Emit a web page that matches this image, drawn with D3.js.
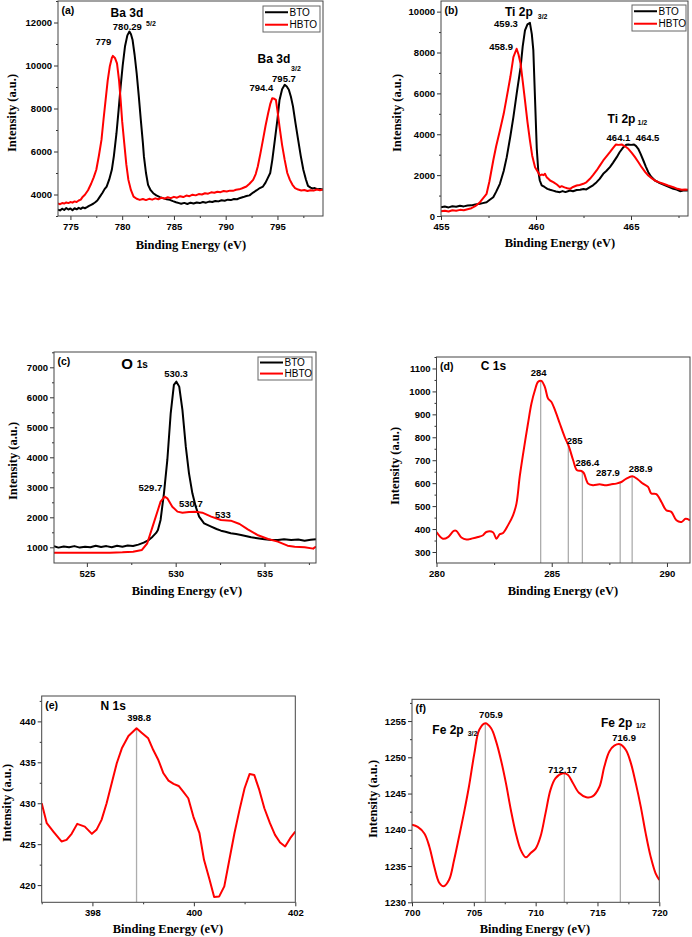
<!DOCTYPE html>
<html>
<head>
<meta charset="utf-8">
<script src="https://cdn.jsdelivr.net/npm/d3@7"></script>
<style>
  body { margin: 0; background: #fff; }
  svg { display: block; background: #fff; }
</style>
</head>
<body>
<svg id="chart" width="692" height="937"></svg>
<script>
// ---- data: [binding energy (eV), intensity (a.u.)] ----
const baBTO = [[773.8,3300],[774.0,3260],[774.2,3340],[774.4,3280],[774.6,3370],[774.8,3300],[775.0,3350],[775.2,3270],[775.4,3360],[775.6,3310],[775.8,3380],[776.0,3330],[776.2,3400],[776.4,3360],[776.6,3410],[776.8,3470],[777.0,3520],[777.2,3570],[777.4,3640],[777.6,3720],[777.85,3900],[778.1,4080],[778.3,4250],[778.5,4370],[778.75,4700],[779.0,5150],[779.2,5800],[779.45,6850],[779.65,7900],[779.85,9020],[780.05,10000],[780.27,10880],[780.5,11400],[780.7,11580],[780.85,11450],[781.0,11200],[781.2,10500],[781.4,9640],[781.6,8600],[781.8,7470],[782.0,6400],[782.1,5770],[782.3,5000],[782.5,4450],[782.75,4200],[783.0,4060],[783.3,3960],[783.65,3880],[784.0,3820],[784.3,3780],[784.6,3750],[784.9,3690],[785.2,3640],[785.5,3600],[785.7,3570],[786.0,3610],[786.3,3560],[786.6,3620],[786.9,3580],[787.2,3630],[787.5,3600],[787.8,3650],[788.1,3620],[788.4,3670],[788.7,3650],[789.0,3700],[789.3,3680],[789.6,3730],[789.9,3710],[790.2,3760],[790.5,3740],[790.8,3790],[791.1,3780],[791.4,3840],[791.7,3880],[792.0,3930],[792.3,3960],[792.65,4090],[793.0,4200],[793.3,4300],[793.6,4370],[793.85,4550],[794.05,4750],[794.3,5000],[794.5,5600],[794.75,6540],[795.0,7500],[795.2,8400],[795.45,8900],[795.7,9100],[795.9,9020],[796.1,8870],[796.3,8550],[796.5,8100],[796.75,7300],[797.0,6540],[797.25,5800],[797.5,5150],[797.75,4700],[797.95,4400],[798.2,4320],[798.4,4280],[798.6,4300],[798.85,4250],[799.1,4260],[799.4,4230]];
const baHBTO = [[773.8,3580],[774.0,3550],[774.2,3600],[774.4,3580],[774.6,3630],[774.8,3600],[775.0,3650],[775.2,3620],[775.4,3680],[775.6,3650],[775.8,3720],[776.0,3760],[776.2,3900],[776.4,3990],[776.7,4200],[777.0,4500],[777.25,4800],[777.5,5150],[777.75,5800],[778.0,6540],[778.2,7500],[778.4,8400],[778.6,9300],[778.8,9950],[779.0,10350],[779.1,10450],[779.3,10350],[779.5,10100],[779.7,9300],[779.85,8400],[780.0,7400],[780.2,6390],[780.4,5400],[780.6,4680],[780.85,4200],[781.1,3900],[781.4,3800],[781.7,3750],[782.0,3790],[782.3,3740],[782.6,3800],[782.9,3760],[783.2,3820],[783.5,3780],[783.8,3850],[784.1,3810],[784.4,3870],[784.7,3830],[785.0,3890],[785.3,3850],[785.6,3920],[785.9,3880],[786.2,3950],[786.5,3920],[786.8,3990],[787.1,3960],[787.4,4020],[787.7,4000],[788.0,4060],[788.3,4040],[788.6,4100],[788.9,4080],[789.2,4130],[789.5,4110],[789.8,4160],[790.1,4140],[790.4,4180],[790.7,4170],[791.0,4220],[791.3,4240],[791.6,4290],[792.0,4370],[792.3,4500],[792.65,4680],[792.9,4950],[793.1,5300],[793.35,5900],[793.6,6540],[793.85,7200],[794.1,7780],[794.3,8200],[794.5,8480],[794.7,8450],[794.85,8400],[795.0,7900],[795.2,7160],[795.45,6300],[795.7,5610],[795.95,5000],[796.2,4680],[796.45,4450],[796.7,4300],[797.0,4230],[797.3,4190],[797.6,4210],[797.9,4160],[798.2,4200],[798.5,4180],[798.8,4230],[799.1,4200],[799.4,4230]];

const tiBTO = [[455.0,430],[455.2,460],[455.4,420],[455.6,480],[455.8,450],[456.0,500],[456.2,470],[456.4,510],[456.6,520],[456.8,560],[457.05,597],[457.2,630],[457.4,675],[457.55,780],[457.75,920],[457.9,1180],[458.1,1575],[458.3,2200],[458.46,2880],[458.65,3900],[458.81,4837],[459.0,6100],[459.19,7283],[459.3,8300],[459.42,9080],[459.55,9380],[459.68,9450],[459.78,8900],[459.86,8100],[459.95,5700],[460.04,3300],[460.12,2200],[460.2,1737],[460.3,1500],[460.45,1420],[460.6,1330],[460.74,1282],[460.9,1240],[461.05,1200],[461.26,1166],[461.4,1220],[461.55,1170],[461.79,1248],[461.95,1210],[462.14,1270],[462.32,1282],[462.5,1320],[462.65,1300],[462.84,1410],[463.0,1500],[463.19,1656],[463.35,1820],[463.54,2065],[463.7,2200],[463.89,2389],[464.05,2600],[464.25,2880],[464.4,3120],[464.6,3368],[464.75,3490],[464.86,3500],[465.0,3480],[465.16,3500],[465.27,3420],[465.38,3289],[465.5,3050],[465.65,2716],[465.78,2420],[465.91,2145],[466.05,1930],[466.26,1737],[466.45,1640],[466.7,1542],[466.95,1440],[467.23,1330],[467.4,1290],[467.58,1215],[467.8,1260],[468.0,1248]];
const tiHBTO = [[455.0,235],[455.2,260],[455.4,220],[455.6,280],[455.8,260],[456.0,300],[456.2,280],[456.4,330],[456.6,380],[456.8,480],[457.05,675],[457.2,850],[457.4,1085],[457.55,1700],[457.75,2716],[457.9,3400],[458.1,4185],[458.3,5000],[458.46,5815],[458.65,6800],[458.81,7773],[458.98,8184],[459.08,7900],[459.19,7450],[459.3,6600],[459.42,5653],[459.55,4600],[459.68,3695],[459.8,2950],[459.95,2389],[460.1,2150],[460.21,1982],[460.3,2031],[460.4,2000],[460.47,2065],[460.56,1900],[460.65,1820],[460.74,1737],[460.91,1656],[461.1,1540],[461.26,1410],[461.35,1460],[461.5,1400],[461.65,1360],[461.79,1330],[461.95,1420],[462.14,1493],[462.3,1520],[462.49,1575],[462.65,1650],[462.84,1820],[463.0,2000],[463.19,2227],[463.35,2450],[463.54,2716],[463.7,2900],[463.89,3123],[464.05,3320],[464.21,3500],[464.35,3480],[464.51,3500],[464.7,3400],[464.86,3289],[465.05,3080],[465.21,2880],[465.4,2620],[465.56,2389],[465.75,2150],[465.91,1982],[466.1,1840],[466.26,1737],[466.45,1660],[466.7,1575],[466.95,1490],[467.23,1410],[467.45,1330],[467.67,1282],[467.85,1300],[468.0,1282]];

const oBTO = [[523.15,1040],[523.4,990],[523.7,1030],[524.0,1000],[524.3,1040],[524.6,990],[524.9,1020],[525.2,1000],[525.5,1050],[525.8,1010],[526.1,1040],[526.4,1000],[526.7,1050],[527.0,1020],[527.3,1060],[527.6,1044],[527.9,1090],[528.2,1155],[528.45,1230],[528.7,1355],[528.9,1480],[529.0,1578],[529.15,1911],[529.34,2800],[529.53,3911],[529.72,5467],[529.9,6411],[530.04,6522],[530.2,6356],[530.38,5578],[530.57,4355],[530.75,3467],[530.94,2800],[531.13,2355],[531.32,2022],[531.6,1800],[532.0,1689],[532.3,1610],[532.55,1555],[532.8,1520],[533.1,1466],[533.4,1440],[533.68,1411],[534.0,1370],[534.25,1333],[534.6,1300],[535.0,1267],[535.4,1240],[535.75,1244],[536.1,1270],[536.5,1244],[536.9,1260],[537.26,1222],[537.6,1250],[537.9,1267]];
const oHBTO = [[523.15,822],[524.0,820],[525.0,818],[526.0,822],[526.3,822],[527.0,835],[527.6,855],[528.1,911],[528.4,1133],[528.7,1689],[529.0,2244],[529.15,2522],[529.38,2689],[529.53,2633],[529.81,2355],[530.1,2189],[530.38,2155],[530.75,2178],[531.13,2189],[531.5,2155],[532.0,2022],[532.55,1911],[533.1,1889],[533.6,1778],[534.06,1600],[534.6,1411],[535.2,1278],[535.75,1189],[536.3,1055],[536.7,1022],[537.26,1000],[537.74,956],[537.9,1022]];

const c1s = [[280.0,387],[280.28,358],[280.5,365],[280.75,392],[280.86,392],[281.08,363],[281.3,354],[281.51,358],[281.8,365],[282.02,373],[282.16,387],[282.45,386],[282.6,358],[282.74,377],[282.89,383],[283.1,416],[283.32,460],[283.47,511],[283.61,627],[283.76,729],[283.97,860],[284.12,947],[284.27,1005],[284.41,1042],[284.55,1046],[284.7,1020],[284.84,969],[284.98,955],[285.17,911],[285.35,860],[285.56,802],[285.75,758],[285.93,700],[286.1,656],[286.29,653],[286.39,645],[286.58,598],[286.79,591],[287.08,595],[287.3,591],[287.59,595],[287.8,598],[288.02,605],[288.24,620],[288.5,630],[288.74,616],[288.96,598],[289.18,584],[289.32,555],[289.54,552],[289.76,518],[289.97,482],[290.19,475],[290.41,438],[290.63,431],[290.81,445],[291.0,438]];
const n1s = [[397.0,430.0],[397.1,427.56],[397.23,426.54],[397.39,425.33],[397.49,425.53],[397.59,426.26],[397.7,427.48],[397.85,427.15],[397.99,426.26],[398.08,426.75],[398.18,427.97],[398.28,430.0],[398.38,432.44],[398.48,434.88],[398.58,436.71],[398.71,438.21],[398.87,439.15],[398.97,438.62],[399.1,437.93],[399.2,436.5],[399.3,435.28],[399.4,433.66],[399.5,432.76],[399.6,432.36],[399.7,432.11],[399.79,431.42],[399.89,430.61],[399.99,428.37],[400.11,426.34],[400.2,423.09],[400.31,420.65],[400.4,418.54],[400.5,418.62],[400.6,419.84],[400.7,423.09],[400.8,426.34],[400.9,429.19],[401.0,431.83],[401.1,433.58],[401.19,433.46],[401.29,431.63],[401.39,429.39],[401.5,427.56],[401.6,426.14],[401.7,425.2],[401.8,424.72],[401.9,425.73],[402.0,426.54]];
const fe2p = [[700,1240.7],[700.46,1240.4],[701.0,1239.5],[701.4,1237.7],[701.8,1234.9],[702.2,1232.7],[702.56,1232.2],[703.0,1233.1],[703.4,1235.8],[703.8,1239.0],[704.2,1242.3],[704.6,1245.9],[705.04,1250.5],[705.44,1253.8],[705.93,1254.7],[706.4,1254.0],[706.8,1252.2],[707.2,1249.6],[707.6,1246.4],[708.0,1242.7],[708.4,1239.5],[708.8,1237.2],[709.2,1236.2],[709.6,1236.8],[710.0,1237.4],[710.4,1239.1],[710.8,1242.3],[711.2,1245.5],[711.6,1247.1],[712.2,1247.8],[712.6,1247.6],[713.0,1246.5],[713.5,1245.1],[714.1,1244.5],[714.6,1244.6],[715.15,1245.9],[715.55,1248.7],[715.96,1250.8],[716.36,1251.6],[716.82,1251.8],[717.3,1251.0],[717.7,1249.2],[718.1,1246.4],[718.5,1243.2],[718.9,1239.5],[719.3,1236.3],[719.7,1234.0],[720.0,1233.1]];

// drop lines under the marked peaks (eV)
const c1sDrops = [284.52, 285.72, 286.33, 287.97, 288.49];
const n1sDrops = [398.87];
const fe2pDrops = [705.93, 712.32, 716.85];

// annotations: [text, eV, intensity, kind]
const baNotes = [['Ba 3d',780.46,12242,'title'],['5/2',782.78,11837,'sub'],['780.29',780.5,11628,'peak'],['779',778.19,10953,'peak'],
  ['Ba 3d',794.66,10116,'title'],['3/2',796.79,9767,'sub'],['795.7',795.63,9233,'peak'],['794.4',793.45,8814,'peak']];
const tiNotes = [['Ti 2p',459.1,9790,'title'],['3/2',460.35,9640,'sub'],['459.3',458.42,9248,'peak'],['458.9',458.16,8122,'peak'],
  ['Ti 2p',464.5,4551,'title'],['1/2',465.6,4453,'sub'],['464.1',464.34,3670,'peak'],['464.5',465.87,3670,'peak']];
const oNotes = [['O',527.26,6960,'big'],['1s',528.12,6977,'mid'],['530.3',530.02,6677,'peak'],['529.7',528.58,2877,'peak'],['530.7',530.86,2327,'peak'],['533',532.66,1977,'peak']];
const cNotes = [['C 1s',282.47,1093,'title'],['284',284.43,1067,'peak'],['285',285.996,771,'peak'],['286.4',286.55,676,'peak'],['287.9',287.44,631,'peak'],['288.9',288.86,649,'peak']];
const nNotes = [['N 1s',398.41,441.33,'title'],['398.8',398.92,440.05,'peak']];
const feNotes = [['705.9',706.39,1255.4,'peak'],['Fe 2p',702.91,1253.2,'title'],['3/2',704.9,1252.9,'sub'],['Fe 2p',716.55,1254.2,'title'],['1/2',718.5,1254.1,'sub'],['716.9',717.15,1252.2,'peak'],['712.17',712.17,1247.9,'peak']];

const SANS = '"Liberation Sans", Arial, sans-serif';
const SERIF = '"Liberation Serif", "Times New Roman", serif';
const noteSize = { peak: 9.5, title: 12, sub: 7, big: 15, mid: 10 };

class XpsPanel {

    constructor(_config, _series, _notes) {
        this.config = {
            parentElement: _config.parentElement,
            id: _config.id,
            frame: _config.frame,
            xDomain: _config.xDomain,
            yDomain: _config.yDomain,
            xTicks: _config.xTicks,
            xMinor: _config.xMinor,
            yTicks: _config.yTicks,
            yMinor: _config.yMinor,
            legend: _config.legend || null,
            drops: _config.drops || [],
            curve: _config.curve || d3.curveLinear,
            yTitle: _config.yTitle,
            xTitle: _config.xTitle
        }
        this.series = _series;
        this.notes = _notes || [];
        this.initVis();
    }

    initVis() {
        let vis = this;
        let f = vis.config.frame;
        vis.x = d3.scaleLinear().domain(vis.config.xDomain).range([f.l, f.r]);
        vis.y = d3.scaleLinear().domain(vis.config.yDomain).range([f.b, f.t]);
        vis.g = d3.select(vis.config.parentElement).append('g');

        vis.g.append('clipPath').attr('id', 'clip-' + vis.config.id)
            .append('rect').attr('x', f.l).attr('y', f.t).attr('width', f.r - f.l).attr('height', f.b - f.t);
        vis.plot = vis.g.append('g').attr('clip-path', 'url(#clip-' + vis.config.id + ')');
        this.renderVis();
    }

    valueAt(data, e) {
        let i = d3.bisector(d => d[0]).left(data, e);
        if (i <= 0) return data[0][1];
        if (i >= data.length) return data[data.length - 1][1];
        let a = data[i - 1], b = data[i];
        return a[1] + (b[1] - a[1]) * (e - a[0]) / (b[0] - a[0]);
    }

    renderVis() {
        let vis = this;
        let f = vis.config.frame;

        // grey drop lines from the axis up to the curve
        vis.plot.selectAll('.drop').data(vis.config.drops).join('line')
            .attr('x1', d => vis.x(d)).attr('x2', d => vis.x(d))
            .attr('y1', f.b).attr('y2', d => vis.y(vis.valueAt(vis.series[0].data, d)))
            .attr('stroke', '#adadad').attr('stroke-width', 1.3);

        let line = d3.line().x(d => vis.x(d[0])).y(d => vis.y(d[1])).curve(vis.config.curve);
        vis.plot.selectAll('.spec').data(vis.series).join('path')
            .attr('d', d => line(d.data))
            .attr('fill', 'none').attr('stroke', d => d.color)
            .attr('stroke-width', 2).attr('stroke-linejoin', 'round');

        // axes (major + minor, outward ticks)
        let styleAxis = g => {
            g.select('.domain').remove();
            g.selectAll('line').attr('stroke', '#333');
            g.selectAll('text').attr('font-family', SANS).attr('font-weight', 'bold').attr('font-size', 9.5).attr('fill', '#000');
        };
        vis.g.append('g').attr('transform', `translate(0,${f.b})`)
            .call(d3.axisBottom(vis.x).tickValues(vis.config.xTicks).tickSize(4).tickPadding(3).tickFormat(d3.format('d')))
            .call(styleAxis);
        vis.g.append('g').attr('transform', `translate(0,${f.b})`)
            .call(d3.axisBottom(vis.x).tickValues(vis.config.xMinor).tickSize(2).tickFormat(''))
            .call(styleAxis);
        vis.g.append('g').attr('transform', `translate(${f.l},0)`)
            .call(d3.axisLeft(vis.y).tickValues(vis.config.yTicks).tickSize(4).tickPadding(2).tickFormat(d3.format('d')))
            .call(styleAxis);
        vis.g.append('g').attr('transform', `translate(${f.l},0)`)
            .call(d3.axisLeft(vis.y).tickValues(vis.config.yMinor).tickSize(2).tickFormat(''))
            .call(styleAxis);

        vis.g.append('rect').attr('x', f.l).attr('y', f.t).attr('width', f.r - f.l).attr('height', f.b - f.t)
            .attr('fill', 'none').attr('stroke', '#444').attr('stroke-width', 1);

        // panel tag
        vis.g.append('text').attr('x', f.l + 3.5).attr('y', f.t + 13)
            .attr('font-family', SANS).attr('font-weight', 'bold').attr('font-size', 10.5)
            .text('(' + vis.config.id + ')');

        // legend
        if (vis.config.legend) {
            let L = vis.config.legend;
            let lg = vis.g.append('g');
            lg.append('rect').attr('x', L.x).attr('y', L.y).attr('width', L.w).attr('height', L.h)
                .attr('fill', '#fff').attr('stroke', '#666').attr('stroke-width', 1);
            vis.series.forEach((s, i) => {
                let yy = L.y + L.h * (i === 0 ? 0.24 : 0.72);
                lg.append('line').attr('x1', L.x + 2).attr('x2', L.x + 25).attr('y1', yy).attr('y2', yy)
                    .attr('stroke', s.color).attr('stroke-width', 2);
                lg.append('text').attr('x', L.x + 26.5).attr('y', yy + 3.6)
                    .attr('font-family', SANS).attr('font-size', 10).text(s.name);
            });
        }

        // annotations
        vis.g.selectAll('.note').data(vis.notes).join('text')
            .attr('x', d => vis.x(d[1])).attr('y', d => vis.y(d[2]))
            .attr('text-anchor', 'middle')
            .attr('font-family', SANS).attr('font-weight', 'bold')
            .attr('font-size', d => noteSize[d[3]])
            .text(d => d[0]);

        // axis titles
        vis.g.append('text')
            .attr('transform', `translate(${vis.config.yTitle.x},${vis.config.yTitle.y}) rotate(-90)`)
            .attr('dy', '0.35em').attr('text-anchor', 'middle')
            .attr('font-family', SERIF).attr('font-weight', 'bold').attr('font-size', 12.5)
            .text('Intensity (a.u.)');
        vis.g.append('text')
            .attr('x', vis.config.xTitle.x).attr('y', vis.config.xTitle.y)
            .attr('text-anchor', 'middle')
            .attr('font-family', SERIF).attr('font-weight', 'bold').attr('font-size', 12.5)
            .text('Binding Energy (eV)');
    }
}

const BLACK = '#000000', RED = '#ff0000';

new XpsPanel({
    parentElement: '#chart', id: 'a',
    frame: { l: 58, r: 323, t: 1, b: 216 },
    xDomain: [773.8, 799.4], yDomain: [3000, 13000],
    xTicks: d3.range(775, 796, 5), xMinor: d3.range(777.5, 799, 5),
    yTicks: d3.range(4000, 12001, 2000), yMinor: d3.range(3000, 13001, 2000),
    legend: { x: 263, y: 6, w: 57, h: 26 },
    yTitle: { x: 12, y: 113 }, xTitle: { x: 191, y: 249 }
}, [{ name: 'BTO', color: BLACK, data: baBTO }, { name: 'HBTO', color: RED, data: baHBTO }], baNotes);

new XpsPanel({
    parentElement: '#chart', id: 'b',
    frame: { l: 441, r: 688, t: 1, b: 216 },
    xDomain: [455, 468], yDomain: [0, 10520],
    xTicks: [455, 460, 465], xMinor: [457.5, 462.5, 467.5],
    yTicks: d3.range(0, 10001, 2000), yMinor: d3.range(1000, 10001, 2000),
    legend: { x: 632, y: 5, w: 54, h: 26 },
    yTitle: { x: 397, y: 113 }, xTitle: { x: 560, y: 247 }
}, [{ name: 'BTO', color: BLACK, data: tiBTO }, { name: 'HBTO', color: RED, data: tiHBTO }], tiNotes);

new XpsPanel({
    parentElement: '#chart', id: 'c',
    frame: { l: 54, r: 316, t: 352, b: 563 },
    xDomain: [523.15, 537.9], yDomain: [477, 7510],
    xTicks: [525, 530, 535], xMinor: [527.5, 532.5, 537.5],
    yTicks: d3.range(1000, 7001, 1000), yMinor: d3.range(1500, 7501, 1000),
    legend: { x: 258, y: 357, w: 54, h: 23 },
    yTitle: { x: 13, y: 461 }, xTitle: { x: 187, y: 595 }
}, [{ name: 'BTO', color: BLACK, data: oBTO }, { name: 'HBTO', color: RED, data: oHBTO }], oNotes);

new XpsPanel({
    parentElement: '#chart', id: 'd',
    frame: { l: 436.5, r: 690, t: 357, b: 563 },
    xDomain: [280, 291], yDomain: [252, 1150],
    xTicks: [280, 285, 290], xMinor: [282.5, 287.5],
    yTicks: d3.range(300, 1101, 100), yMinor: d3.range(350, 1151, 100),
    drops: c1sDrops, curve: d3.curveCatmullRom,
    yTitle: { x: 395, y: 466 }, xTitle: { x: 563, y: 595 }
}, [{ name: 'C 1s', color: RED, data: c1s }], cNotes);

new XpsPanel({
    parentElement: '#chart', id: 'e',
    frame: { l: 41.7, r: 295.3, t: 696, b: 902.3 },
    xDomain: [397, 402], yDomain: [417.9, 443.1],
    xTicks: [398, 400, 402], xMinor: [397, 399, 401],
    yTicks: d3.range(420, 441, 5), yMinor: d3.range(422.5, 443, 5),
    drops: n1sDrops,
    yTitle: { x: 7, y: 803 }, xTitle: { x: 168, y: 933 }
}, [{ name: 'N 1s', color: RED, data: n1s }], nNotes);

new XpsPanel({
    parentElement: '#chart', id: 'f',
    frame: { l: 412, r: 659.3, t: 699.3, b: 902.3 },
    xDomain: [700, 720], yDomain: [1230, 1258],
    xTicks: d3.range(700, 721, 5), xMinor: d3.range(702.5, 720, 5),
    yTicks: d3.range(1230, 1256, 5), yMinor: d3.range(1232.5, 1258, 5),
    drops: fe2pDrops, curve: d3.curveCatmullRom,
    yTitle: { x: 373, y: 799 }, xTitle: { x: 535, y: 933 }
}, [{ name: 'Fe 2p', color: RED, data: fe2p }], feNotes);
</script>
</body>
</html>
